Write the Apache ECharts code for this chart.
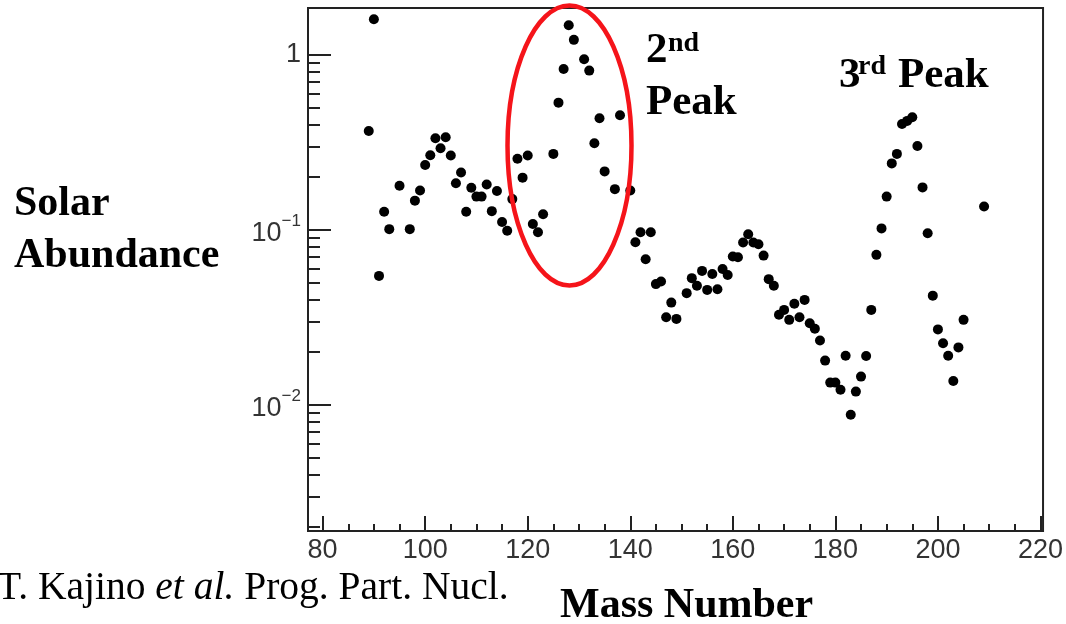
<!DOCTYPE html>
<html>
<head>
<meta charset="utf-8">
<script src="https://cdn.jsdelivr.net/npm/echarts@6/dist/echarts.min.js"></script>
<style>
  html, body { margin: 0; padding: 0; background: #fff; }
  #chart { width: 1066px; height: 624px; }
</style>
</head>
<body>
<div id="chart"></div>
<script>
// Solar r-process abundance versus mass number
const massNumber = [
  89, 90, 91, 92, 93, 95, 97, 98, 99, 100,
  101, 102, 103, 104, 105, 106, 107, 108, 109, 110,
  111, 112, 113, 114, 115, 116, 117, 118, 119, 120,
  121, 122, 123, 125, 126, 127, 128, 129, 131, 132,
  133, 134, 135, 137, 138, 140, 141, 142, 143, 144,
  145, 146, 147, 148, 149, 151, 152, 153, 154, 155,
  156, 157, 158, 159, 160, 161, 162, 163, 164, 165,
  166, 167, 168, 169, 170, 171, 172, 173, 174, 175,
  176, 177, 178, 179, 180, 181, 182, 183, 184, 185,
  186, 187, 188, 189, 190, 191, 192, 193, 194, 195,
  196, 197, 198, 199, 200, 201, 202, 203, 204, 205,
  209
];
const abundance = [
  0.368, 1.60, 0.0546, 0.127, 0.101, 0.179, 0.101, 0.147, 0.168, 0.235,
  0.267, 0.334, 0.293, 0.339, 0.266, 0.185, 0.213, 0.127, 0.174, 0.155,
  0.155, 0.182, 0.128, 0.167, 0.111, 0.099, 0.150, 0.255, 0.199, 0.266,
  0.108, 0.097, 0.123, 0.272, 0.534, 0.832, 1.48, 1.22, 0.945, 0.814,
  0.313, 0.435, 0.216, 0.171, 0.452, 0.168, 0.085, 0.097, 0.068, 0.097,
  0.049, 0.0507, 0.0317, 0.0384, 0.031, 0.0435, 0.053, 0.0479, 0.0583, 0.0454,
  0.056, 0.0458, 0.0598, 0.0553, 0.0704, 0.0698, 0.0847, 0.0945, 0.0847, 0.0828,
  0.0713, 0.0523, 0.0479, 0.0327, 0.0349, 0.0306, 0.0378, 0.0317, 0.0398, 0.0293,
  0.0272, 0.0233, 0.0179, 0.0134, 0.0134, 0.0122, 0.0191, 0.00877, 0.0119, 0.0145,
  0.019, 0.0349, 0.072, 0.102, 0.155, 0.240, 0.272, 0.403, 0.420, 0.441,
  0.302, 0.175, 0.0958, 0.0421, 0.027, 0.0225, 0.0191, 0.0137, 0.0213, 0.0306,
  0.136
];

// axis ticks
const xMajorTicks = [80, 100, 120, 140, 160, 180, 200, 220];
const xMinorTicks = [85, 90, 95, 105, 110, 115, 125, 130, 135, 145, 150, 155,
  165, 170, 175, 185, 190, 195, 205, 210, 215];
const yMajorTicks = [0.01, 0.1, 1];
const yMinorTicks = [
  0.002, 0.003, 0.004, 0.005, 0.006, 0.007, 0.008, 0.009,
  0.02, 0.03, 0.04, 0.05, 0.06, 0.07, 0.08, 0.09,
  0.2, 0.3, 0.4, 0.5, 0.6, 0.7, 0.8, 0.9
];
const yTickLabels = { '1': '1', '0.1': '{m|10}{s|\u22121}', '0.01': '{m|10}{s|\u22122}' };

const X_MIN = 77.15, X_MAX = 220.5;
const Y_MIN = 0.0019, Y_MAX = 1.856;

const ink = '#222';
const labelColor = '#333';
const sans = 'Liberation Sans';
const serif = 'Liberation Serif';

const points = massNumber.map((a, i) => [a, abundance[i]]);

const chart = echarts.init(document.getElementById('chart'), null, { renderer: 'canvas' });

function xAxisBase(extra) {
  return Object.assign({
    type: 'value', min: X_MIN, max: X_MAX, position: 'bottom',
    splitLine: { show: false }
  }, extra);
}
function yAxisBase(extra) {
  return Object.assign({
    type: 'log', logBase: 10, min: Y_MIN, max: Y_MAX, position: 'left',
    splitLine: { show: false }, minorTick: { show: false }, minorSplitLine: { show: false }
  }, extra);
}

chart.setOption({
  animation: false,
  backgroundColor: '#fff',
  grid: {
    left: 308, right: 20, top: 8, bottom: 93,
    show: true, borderColor: ink, borderWidth: 2, backgroundColor: 'transparent'
  },
  xAxis: [
    xAxisBase({
      axisLine: { show: true, lineStyle: { color: ink, width: 2 } },
      axisTick: { show: true, inside: true, length: 15, customValues: xMajorTicks,
        lineStyle: { color: ink, width: 2 } },
      axisLabel: { show: true, customValues: xMajorTicks, margin: 6,
        fontFamily: sans, fontSize: 27, color: labelColor }
    }),
    xAxisBase({
      axisLine: { show: false },
      axisTick: { show: true, inside: true, length: 7, customValues: xMinorTicks,
        lineStyle: { color: ink, width: 2 } },
      axisLabel: { show: false }
    })
  ],
  yAxis: [
    yAxisBase({
      axisLine: { show: true, lineStyle: { color: ink, width: 2 } },
      axisTick: { show: true, inside: true, length: 23, customValues: yMajorTicks,
        lineStyle: { color: ink, width: 2 } },
      axisLabel: {
        show: true, customValues: yMajorTicks, margin: 7,
        formatter: v => yTickLabels[String(+v.toPrecision(3))] || '',
        fontFamily: sans, fontSize: 27, color: labelColor,
        rich: {
          m: { fontFamily: sans, fontSize: 27, color: labelColor, padding: [8, 0, 0, 0] },
          s: { fontFamily: sans, fontSize: 17, color: labelColor, verticalAlign: 'top', padding: [0, 0, 0, 0] }
        }
      }
    }),
    yAxisBase({
      axisLine: { show: false },
      axisTick: { show: true, inside: true, length: 12, customValues: yMinorTicks,
        lineStyle: { color: ink, width: 2 } },
      axisLabel: { show: false }
    })
  ],
  series: [{
    type: 'scatter',
    xAxisIndex: 0, yAxisIndex: 0,
    data: points,
    symbol: 'circle', symbolSize: 10,
    itemStyle: { color: '#000', opacity: 1 },
    silent: true
  }],
  graphic: [
    // ring around the A~130 peak
    { type: 'ellipse', shape: { cx: 569.5, cy: 145.5, rx: 62, ry: 140 },
      style: { fill: 'none', stroke: '#f5141a', lineWidth: 4.5 }, z: 10 },
    // peak annotations
    { type: 'text', x: 646, y: 51, z: 10,
      style: { text: '2', font: 'bold 43px "' + serif + '"', fill: '#000', textAlign: 'left', textVerticalAlign: 'middle' } },
    { type: 'text', x: 668, y: 44, z: 10,
      style: { text: 'nd', font: 'bold 28px "' + serif + '"', fill: '#000', textAlign: 'left', textVerticalAlign: 'middle' } },
    { type: 'text', x: 646, y: 103, z: 10,
      style: { text: 'Peak', font: 'bold 43px "' + serif + '"', fill: '#000', textAlign: 'left', textVerticalAlign: 'middle' } },
    { type: 'text', x: 839, y: 76, z: 10,
      style: { text: '3', font: 'bold 43px "' + serif + '"', fill: '#000', textAlign: 'left', textVerticalAlign: 'middle' } },
    { type: 'text', x: 858, y: 67, z: 10,
      style: { text: 'rd', font: 'bold 28px "' + serif + '"', fill: '#000', textAlign: 'left', textVerticalAlign: 'middle' } },
    { type: 'text', x: 898, y: 76, z: 10,
      style: { text: 'Peak', font: 'bold 43px "' + serif + '"', fill: '#000', textAlign: 'left', textVerticalAlign: 'middle' } },
    // axis titles
    { type: 'text', x: 14, y: 204, z: 10,
      style: { text: 'Solar', font: 'bold 42px "' + serif + '"', fill: '#000', textAlign: 'left', textVerticalAlign: 'middle' } },
    { type: 'text', x: 14, y: 256, z: 10,
      style: { text: 'Abundance', font: 'bold 42px "' + serif + '"', fill: '#000', textAlign: 'left', textVerticalAlign: 'middle' } },
    { type: 'text', x: 560, y: 606, z: 10,
      style: { text: 'Mass Number', font: 'bold 42px "' + serif + '"', fill: '#000', textAlign: 'left', textVerticalAlign: 'middle' } },
    // reference
    { type: 'text', x: -3, y: 589, z: 10,
      style: {
        text: '{r|T. Kajino }{i|et al.}{r| Prog. Part. Nucl.}',
        textAlign: 'left', textVerticalAlign: 'middle',
        rich: {
          r: { fontFamily: serif, fontSize: 39.5, color: '#000' },
          i: { fontFamily: serif, fontSize: 39.5, fontStyle: 'italic', color: '#000' }
        }
      } }
  ]
});
</script>
</body>
</html>
